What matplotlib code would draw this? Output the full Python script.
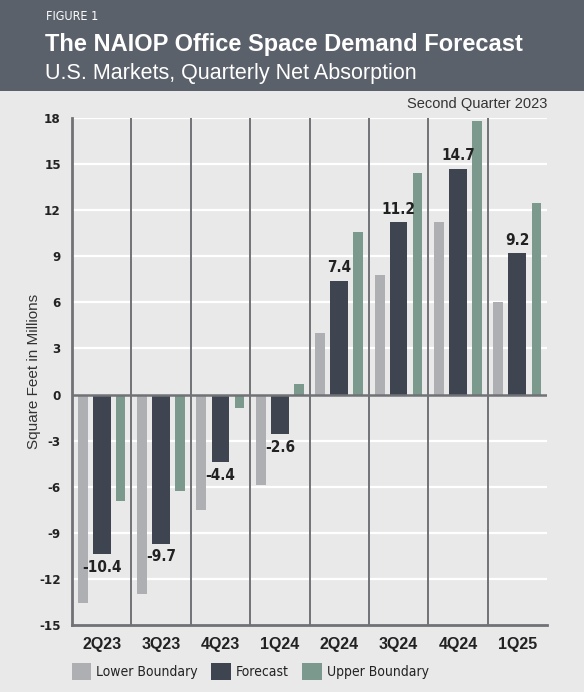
import matplotlib.pyplot as plt
from matplotlib.patches import Rectangle
import numpy as np

# Data
quarters = ['2Q23', '3Q23', '4Q23', '1Q24', '2Q24', '3Q24', '4Q24', '1Q25']
lower = [-13.6, -13.0, -7.5, -5.9, 4.0, 7.8, 11.2, 6.0]
forecast = [-10.4, -9.7, -4.4, -2.6, 7.4, 11.2, 14.7, 9.2]
upper = [-6.9, -6.3, -0.9, 0.7, 10.6, 14.4, 17.8, 12.5]
y_ticks = [-15, -12, -9, -6, -3, 0, 3, 6, 9, 12, 15, 18]

# Colors
C_LOWER = '#aeafb2'
C_FC = '#3e4450'
C_UP = '#7b998c'
C_BG = '#e9e9ea'
C_HEAD = '#5b616a'
C_LINE = '#707276'

plt.rcParams['font.family'] = ['DejaVu Sans']
plt.rcParams['font.stretch'] = 'condensed'

fig = plt.figure(figsize=(5.84, 6.92), dpi=100, facecolor=C_BG)

# header band
fig.patches.append(Rectangle((0, 1 - 91 / 692), 1, 91 / 692, transform=fig.transFigure,
                             facecolor=C_HEAD, edgecolor='none', zorder=0))
fig.text(46 / 584, 1 - 16 / 692, 'FIGURE 1', color='white', fontsize=9, va='center', ha='left')
fig.text(45 / 584, 1 - 44 / 692, 'The NAIOP Office Space Demand Forecast', color='white',
         fontsize=17, fontweight='bold', va='center', ha='left', family='Liberation Sans')
fig.text(45 / 584, 1 - 73 / 692, 'U.S. Markets, Quarterly Net Absorption', color='white',
         fontsize=15.5, va='center', ha='left', family='Liberation Sans')

ax = fig.add_axes([72 / 584, 67 / 692, 475 / 584, 507 / 692])
ax.set_facecolor(C_BG)

x = np.arange(len(quarters))
ax.bar(x + 0.18, lower, width=0.17, color=C_LOWER, zorder=3, label='Lower Boundary')
ax.bar(x + 0.5, forecast, width=0.3, color=C_FC, zorder=3, label='Forecast')
ax.bar(x + 0.82, upper, width=0.16, color=C_UP, zorder=3, label='Upper Boundary')

for xi, v in zip(x, forecast):
    off = 0.35 if v > 0 else -0.35
    ax.text(xi + 0.5, v + off, f'{v:.1f}', ha='center', va='bottom' if v > 0 else 'top',
            fontsize=11, fontweight='bold', color='#222222', zorder=4)

ax.set_xlim(0, len(quarters))
ax.set_ylim(-15, 18)
ax.set_yticks(y_ticks)
ax.set_yticklabels([str(t) for t in y_ticks], fontsize=9.5, fontweight='bold', color='#222222')
ax.set_xticks(x + 0.5)
ax.set_xticklabels(quarters, fontsize=11.5, fontweight='bold', color='#222222',
                   family='Liberation Sans')
ax.tick_params(length=0, pad=8)
ax.tick_params(axis='x', pad=9)

for t in y_ticks[1:]:
    if t != 0:
        ax.axhline(t, color='white', lw=1.6, zorder=1)
ax.axhline(0, color=C_LINE, lw=1.8, zorder=4)
for b in range(1, len(quarters)):
    ax.axvline(b, color=C_LINE, lw=1.4, zorder=2)

for s in ['top', 'right']:
    ax.spines[s].set_visible(False)
for s in ['left', 'bottom']:
    ax.spines[s].set_color(C_LINE)
    ax.spines[s].set_linewidth(2)

ax.set_ylabel('Square Feet in Millions', fontsize=11, color='#333333',
              family='Liberation Sans')
ax.yaxis.set_label_coords(-0.065, 0.5)

fig.text(547 / 584, 1 - 104 / 692, 'Second Quarter 2023', ha='right', va='center',
         fontsize=10.5, color='#333333', family='Liberation Sans')

fig.legend(loc='lower left', bbox_to_anchor=(59 / 584, 0), ncol=3, frameon=False,
           fontsize=10, handlelength=1.4, handleheight=1.4, handletextpad=0.35,
           columnspacing=1.0, labelcolor='#222222')

fig.savefig('out.png', dpi=100, facecolor=C_BG)
